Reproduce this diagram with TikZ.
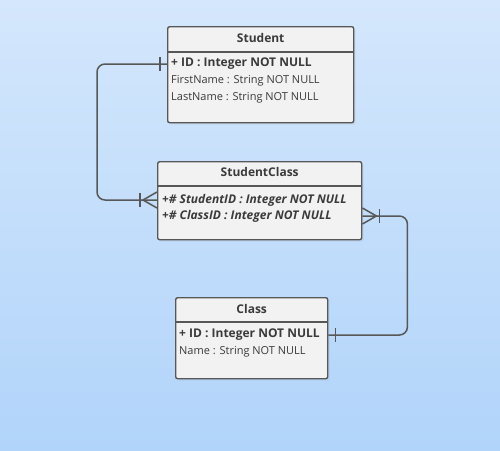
\documentclass[tikz,border=0pt]{standalone}
\usepackage{fontspec}
\setmainfont{Open Sans}
\usetikzlibrary{positioning}
\usetikzlibrary{calc}
\usetikzlibrary{shadows}
\definecolor{bgtop}{HTML}{D4E7FC}
\definecolor{bgbottom}{HTML}{B1D4FA}
\definecolor{boxfill}{HTML}{F2F2F2}
\definecolor{edge}{HTML}{575757}
\definecolor{txt}{HTML}{3A3A3A}
\tikzstyle{entity} = [draw=edge, line width=1.4pt, fill=boxfill, rounded corners=2pt, anchor=north west, inner sep=0pt, drop shadow={opacity=0.10, shadow xshift=2pt, shadow yshift=-2pt}]
\tikzstyle{title} = [font=\bfseries\fontsize{12}{14}\selectfont, text=txt, inner sep=0pt]
\tikzstyle{attr} = [font=\fontsize{11}{14}\selectfont, text=txt, anchor=west, inner sep=0pt]
\tikzstyle{pkey} = [attr, font=\bfseries\fontsize{12}{14}\selectfont]
\tikzstyle{fkey} = [attr, font=\bfseries\itshape\fontsize{12}{14}\selectfont]
\tikzstyle{sep} = [draw=edge, line width=1.3pt]
\tikzstyle{rel} = [draw=edge, line width=1.5pt, rounded corners=8pt]
\tikzstyle{tick} = [draw=edge, line width=1.5pt]

\begin{document}
\begin{tikzpicture}[x=1pt,y=-1pt]
    \shade [top color=bgtop, bottom color=bgbottom] (0,0) rectangle (500,450);

    % Student
    \node [entity, minimum width=186pt, minimum height=96pt] (student) at (167,26) {};
    \node [title] (student-name) at ($(student.north)+(0,12)$) {Student};
    \draw [sep] ($(student.north west)+(0,26)$) -- ($(student.north east)+(0,26)$);
    \node [pkey] (student-id) at ($(student.north west)+(4,38)$) {+ ID : Integer NOT NULL};
    \node [attr] (student-first) at ($(student-id.west)+(0,17)$) {FirstName : String NOT NULL};
    \node [attr] (student-last) at ($(student-first.west)+(0,17)$) {LastName : String NOT NULL};

    % StudentClass
    \node [entity, minimum width=204pt, minimum height=78pt] (studentclass) at (157,161) {};
    \node [title] (studentclass-name) at ($(studentclass.north)+(0,11)$) {StudentClass};
    \draw [sep] ($(studentclass.north west)+(0,25)$) -- ($(studentclass.north east)+(0,25)$);
    \node [fkey] (sc-student) at ($(studentclass.north west)+(5,39)$) {+\# StudentID : Integer NOT NULL};
    \node [fkey] (sc-class) at ($(sc-student.west)+(0,16)$) {+\# ClassID : Integer NOT NULL};

    % Class
    \node [entity, minimum width=152pt, minimum height=81pt] (class) at (175,297) {};
    \node [title] (class-name) at ($(class.north)+(0,12)$) {Class};
    \draw [sep] ($(class.north west)+(0,25)$) -- ($(class.north east)+(0,25)$);
    \node [pkey] (class-id) at ($(class.north west)+(4,38)$) {+ ID : Integer NOT NULL};
    \node [attr] (class-title) at ($(class-id.west)+(0,17)$) {Name : String NOT NULL};

    % relations
    \draw [rel] (student.west |- student-id) -- ++(-70,0) |- (studentclass.west |- sc-student);
    \draw [rel] (studentclass.east |- sc-class) -- ++(45,0) |- (class.east |- class-id);

    % one end
    \draw [tick] ($(student.west |- student-id)+(-7,-7)$) -- ++(0,14);
    \draw [tick] ($(class.east |- class-id)+(7,-7)$) -- ++(0,14);
    % many end
    \draw [tick] ($(studentclass.west |- sc-student)+(-17,-7)$) -- ++(0,14);
    \draw [tick] ($(studentclass.west |- sc-student)+(0,-8)$) -- ++(-14,8) -- ++(14,8);
    \draw [tick] ($(studentclass.east |- sc-class)+(17,-7)$) -- ++(0,14);
    \draw [tick] ($(studentclass.east |- sc-class)+(0,-8)$) -- ++(14,8) -- ++(-14,8);
\end{tikzpicture}
\end{document}
